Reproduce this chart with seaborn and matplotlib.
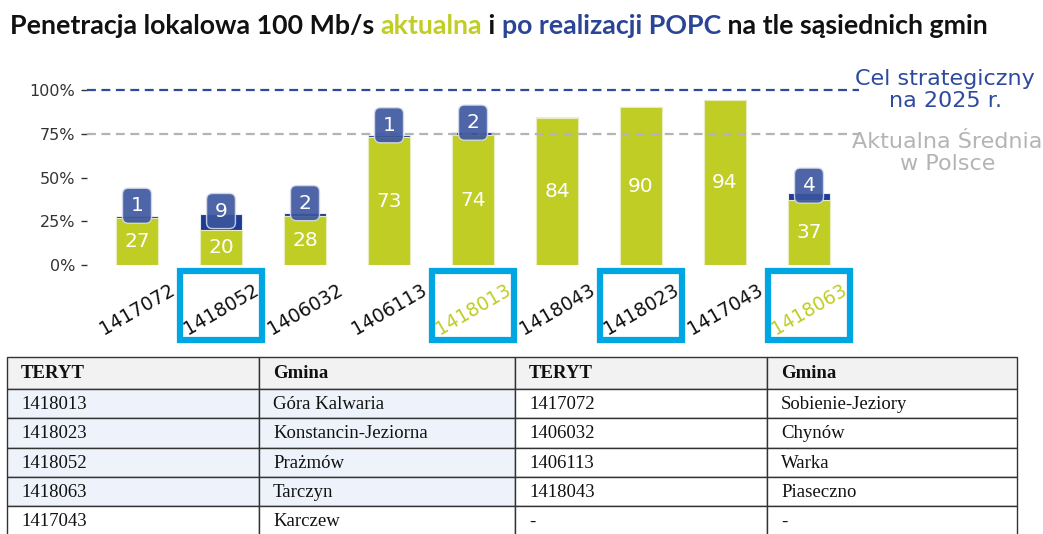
import matplotlib
matplotlib.use("Agg")
import matplotlib.pyplot as plt
from matplotlib.patches import Rectangle
from matplotlib import transforms
import seaborn as sns

# ======================
# dane
# ======================
teryt = ["1417072", "1418052", "1406032", "1406113", "1418013",
         "1418043", "1418023", "1417043", "1418063"]
aktualna = [27, 20, 28, 73, 74, 84, 90, 94, 37]
przyrost_popc = [1, 9, 2, 1, 2, 0.3, 0.3, 0.3, 4]
cel_2025 = 100
srednia_pl = 75
yticks = [0, 25, 50, 75, 100]
green_labels = ["1418013", "1418063"]
boxed_labels = ["1418052", "1418013", "1418023", "1418063"]

table_header = ["TERYT", "Gmina", "TERYT", "Gmina"]
teryt_l = ["1418013", "1418023", "1418052", "1418063", "1417043"]
gmina_l = ["Góra Kalwaria", "Konstancin-Jeziorna", "Prażmów", "Tarczyn", "Karczew"]
teryt_r = ["1417072", "1406032", "1406113", "1418043", "-"]
gmina_r = ["Sobienie-Jeziory", "Chynów", "Warka", "Piaseczno", "-"]

title_parts = [
    ("Penetracja lokalowa 100 Mb/s ", "#111111"),
    ("aktualna", "#C0CD24"),
    (" i ", "#111111"),
    ("po realizacji POPC", "#2A4596"),
    (" na tle sąsiednich gmin", "#111111"),
]

GREEN = "#C0CD24"
BLUE = "#1F3A93"
LINE_BLUE = "#2E4A9E"
GRAY = "#B4B4B4"
CYAN = "#00A6E2"

sns.set_theme(style="white")
plt.rcParams["font.family"] = ["DejaVu Sans"]

W, H = 1043, 534
fig = plt.figure(figsize=(W / 100, H / 100), dpi=100)

# ======================
# wykres
# ======================
ax = fig.add_axes([86.6 / W, (H - 265) / H, (859.4 - 86.6) / W, 183.75 / H])
total = [a + b for a, b in zip(aktualna, przyrost_popc)]
sns.barplot(x=teryt, y=total, color=BLUE, width=0.5, saturation=1,
            edgecolor="#E8ECF4", linewidth=0.8, ax=ax)
sns.barplot(x=teryt, y=aktualna, color=GREEN, width=0.5, saturation=1,
            edgecolor="#E6EBC0", linewidth=0.8, ax=ax)

ax.set_xlim(-0.6, 8.6)
ax.set_ylim(0, 105)
ax.axhline(cel_2025, color=LINE_BLUE, ls=(0, (4, 2.5)), lw=1.6, zorder=1)
ax.axhline(srednia_pl, color=GRAY, ls=(0, (4, 2.5)), lw=1.6, zorder=1)
for s in ax.spines.values():
    s.set_visible(False)
ax.set_yticks(yticks)
ax.set_yticklabels([f"{t}%" for t in yticks], fontsize=11.5, color="#333333")
ax.tick_params(axis="y", left=True, length=4, width=1, color="#333333", pad=4)
ax.tick_params(axis="x", bottom=False, pad=5)
ax.set_xticks(range(len(teryt)))
ax.set_xticklabels(teryt, rotation=30, ha="center", fontsize=13.5)
for lab in ax.get_xticklabels():
    lab.set_color(GREEN if lab.get_text() in green_labels else "#111111")
ax.set_xlabel("")
ax.set_ylabel("")

# etykiety wartości
for i, (a, b) in enumerate(zip(aktualna, przyrost_popc)):
    ax.text(i, a / 2, str(a), ha="center", va="center", color="white",
            fontsize=14.5, zorder=5)
    if b >= 1:
        ax.annotate(str(round(b)), xy=(i, a + b / 2), xytext=(0, 8),
                    textcoords="offset points", ha="center", va="center",
                    color="white", fontsize=14.5, zorder=6,
                    bbox=dict(boxstyle="round,pad=0.4,rounding_size=0.3",
                              fc="#3B559E", ec="#D5DBEA", lw=1, alpha=0.9))

ax.annotate("Cel strategiczny\nna 2025 r.", xy=(1, cel_2025),
            xycoords=("axes fraction", "data"), xytext=(-3, 0),
            textcoords="offset points", ha="left", va="center",
            multialignment="center", color=LINE_BLUE, fontsize=16,
            linespacing=1.12, annotation_clip=False)
ax.annotate("Aktualna Średnia\nw Polsce", xy=(1, srednia_pl),
            xycoords=("axes fraction", "data"), xytext=(-5, 1),
            textcoords="offset points", ha="left", va="top",
            multialignment="center", color=GRAY, fontsize=16,
            linespacing=1.12, annotation_clip=False)

# ramki wokół wybranych etykiet
trans = transforms.blended_transform_factory(ax.transData, ax.transAxes)
for name in boxed_labels:
    i = teryt.index(name)
    ax.add_patch(Rectangle((i - 0.49, -0.41), 0.98, 0.375, transform=trans,
                           fill=False, ec=CYAN, lw=4.5, clip_on=False))

# ======================
# tytuł (wielokolorowy)
# ======================
renderer = fig.canvas.get_renderer()
probe = fig.text(0, 0, "".join(p[0] for p in title_parts), fontsize=18,
                 fontweight="bold", family=["Lato", "DejaVu Sans"])
fs = 18 * 985 / probe.get_window_extent(renderer).width
probe.remove()
x = 10
for txt, col in title_parts:
    t = fig.text(x / W, 1 - 26 / H, txt, color=col, fontsize=fs,
                 fontweight="bold", family=["Lato", "DejaVu Sans"],
                 va="center", ha="left")
    x += t.get_window_extent(renderer).width

# ======================
# tabela
# ======================
tax = fig.add_axes([0, 0, 1, 1])
tax.set_xlim(0, W)
tax.set_ylim(H, 0)
tax.axis("off")
col_x = [7, 259, 515, 767, 1017]
row_y = [357, 389, 418, 448, 477, 506, 536]
rows = [table_header] + [list(r) for r in zip(teryt_l, gmina_l, teryt_r, gmina_r)]
for r, row in enumerate(rows):
    for c, val in enumerate(row):
        x0, x1 = col_x[c], col_x[c + 1]
        y0, y1 = row_y[r], row_y[r + 1]
        if r == 0:
            fc = "#F2F2F2"
        elif c < 2 and r < 5:
            fc = "#EEF2FA"
        else:
            fc = "white"
        tax.add_patch(Rectangle((x0, y0), x1 - x0, y1 - y0, fc=fc,
                                ec="#333333", lw=1.0, clip_on=False))
        tax.text(x0 + 14, (y0 + y1) / 2 + 1, val, ha="left", va="center",
                 fontsize=13.5, family=["Liberation Serif", "DejaVu Serif"],
                 fontweight="bold" if r == 0 else "normal", color="#111111")

fig.savefig("out.png", dpi=100)
